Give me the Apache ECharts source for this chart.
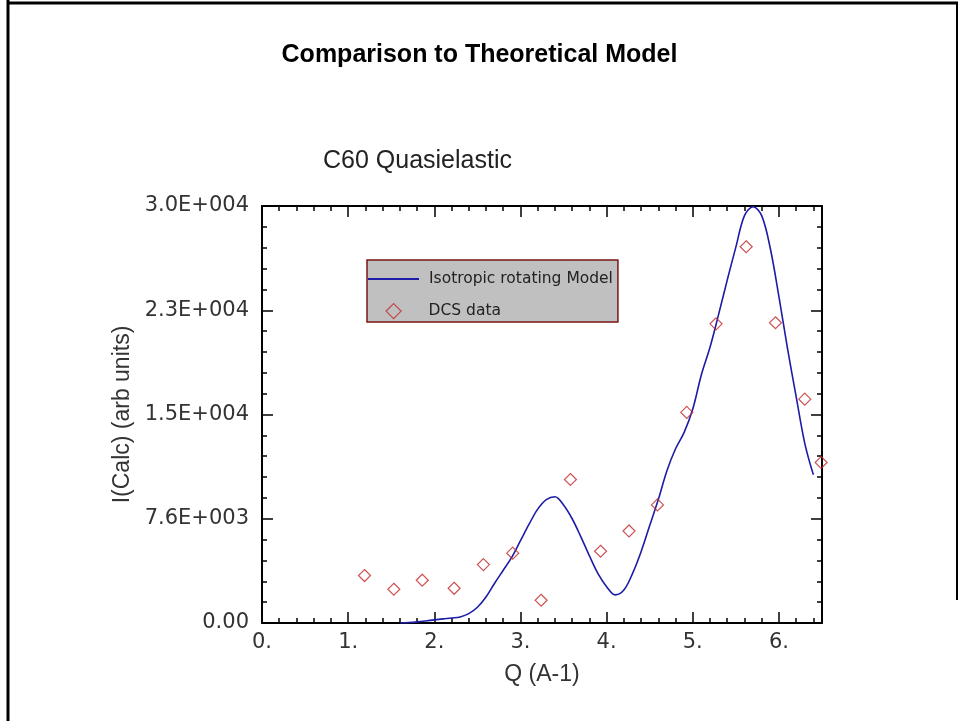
<!DOCTYPE html>
<html>
<head>
<meta charset="utf-8">
<script src="https://cdn.jsdelivr.net/npm/echarts@6/dist/echarts.min.js"></script>
<style>
html,body{margin:0;padding:0;background:#fff;}
#chart{width:959px;height:721px;}
</style>
</head>
<body>
<div id="chart"></div>
<script>
// ---- data ----
const dcsQ = [1.19, 1.53, 1.86, 2.23, 2.57, 2.91, 3.24, 3.58, 3.93, 4.26, 4.59, 4.93, 5.27, 5.62, 5.96, 6.30, 6.49];
const dcsI = [3460, 2460, 3120, 2530, 4260, 5090, 1660, 10460, 5230, 6710, 8610, 15350, 21810, 27430, 21890, 16320, 11700];

const modelQ = [1.6, 1.7, 1.8, 1.9, 2.0, 2.1, 2.2, 2.3, 2.4, 2.5, 2.6, 2.7, 2.8, 2.9, 3.0, 3.1, 3.2, 3.3, 3.4, 3.5, 3.6, 3.7, 3.8, 3.9, 4.0, 4.1, 4.2, 4.3, 4.4, 4.5, 4.6, 4.7, 4.8, 4.9, 5.0, 5.1, 5.2, 5.3, 5.4, 5.5, 5.6, 5.7, 5.8, 5.9, 6.0, 6.1, 6.2, 6.3, 6.4];
const modelI = [0, 30, 80, 150, 230, 300, 360, 440, 680, 1150, 1900, 2900, 3850, 4800, 6000, 7200, 8300, 9000, 9200, 8600, 7600, 6300, 4900, 3600, 2650, 2050, 2400, 3600, 5200, 7100, 9000, 11100, 12700, 13900, 15600, 18100, 20100, 22500, 25000, 27400, 29700, 30350, 29700, 27300, 23800, 20000, 16500, 13100, 10800];

const yTickValues = [0, 7600, 15200, 22800, 30400];
const yTickLabels = ['0.00', '7.6E+003', '1.5E+004', '2.3E+004', '3.0E+004'];
const xTickValues = [0, 1, 2, 3, 4, 5, 6];
const xTickLabels = ['0.', '1.', '2.', '3.', '4.', '5.', '6.'];

const seriesNames = ['Isotropic rotating Model', 'DCS data'];
const chartTitle = 'Comparison to Theoretical Model';
const plotTitle = 'C60 Quasielastic';
const xName = 'Q (A-1)';
const yName = 'I(Calc) (arb units)';

// ---- chart ----
const chart = echarts.init(document.getElementById('chart'), null, {renderer: 'canvas'});
const AX = '#000';
const LBL = '#333';
const FONT = 'Liberation Sans, Arial, sans-serif';
const TFONT = 'DejaVu Sans, sans-serif';
const DIAMOND = '#c0282a';

function xLabel(v) {
  for (let i = 0; i < xTickValues.length; i++) {
    if (Math.abs(v - xTickValues[i]) < 1e-6) return xTickLabels[i];
  }
  return '';
}
function yLabel(v) {
  for (let i = 0; i < yTickValues.length; i++) {
    if (Math.abs(v - yTickValues[i]) < 1e-6) return yTickLabels[i];
  }
  return '';
}

const xBase = {
  type: 'value', min: 0, max: 6.5, gridIndex: 0,
  splitLine: {show: false}
};

const legendText = {fontFamily: TFONT, fontSize: 15.5, color: '#222', lineHeight: 16};

const option = {
  backgroundColor: '#fff',
  animation: false,
  title: [
    {text: chartTitle, left: 'center', top: 38,
     textStyle: {fontFamily: FONT, fontSize: 25, fontWeight: 'bold', color: '#000'}},
    {text: plotTitle, left: 318, top: 144,
     textStyle: {fontFamily: FONT, fontSize: 25, fontWeight: 'normal', color: '#222'}}
  ],
  legend: [
    {
      orient: 'vertical',
      left: 367, top: 260,
      padding: [11, 5, 35, 0],
      itemWidth: 51, itemHeight: 12,
      backgroundColor: '#c0c0c0',
      borderColor: '#7a1414', borderWidth: 1.5,
      textStyle: Object.assign({padding: [0, 0, 0, 5]}, legendText),
      data: [{name: seriesNames[0], itemStyle: {opacity: 0}}],
      z: 5
    },
    {
      orient: 'vertical',
      left: 385.5, top: 303,
      padding: 0,
      itemWidth: 15, itemHeight: 15,
      backgroundColor: 'transparent',
      borderWidth: 0,
      textStyle: Object.assign({padding: [0, 0, 0, 22.5]}, legendText),
      data: [{name: seriesNames[1], icon: 'diamond',
              itemStyle: {color: 'rgba(255,255,255,0)', borderColor: DIAMOND, borderWidth: 1.2}}],
      z: 6
    }
  ],
  grid: {left: 262, top: 206, width: 560, height: 417, containLabel: false},
  xAxis: [
    Object.assign({}, xBase, {
      position: 'bottom', interval: 0.2,
      name: xName, nameLocation: 'middle', nameGap: 40,
      nameTextStyle: {fontFamily: FONT, fontSize: 23, color: LBL},
      axisLine: {show: true, onZero: false, lineStyle: {color: AX, width: 2}},
      axisTick: {show: true, inside: true, length: 5, lineStyle: {color: AX, width: 1.5}},
      axisLabel: {show: true, margin: 9, formatter: xLabel, fontFamily: TFONT, fontSize: 21, color: LBL}
    }),
    Object.assign({}, xBase, {
      position: 'bottom', interval: 1,
      axisLine: {show: false, onZero: false},
      axisTick: {show: true, inside: true, length: 11, lineStyle: {color: AX, width: 1.5}},
      axisLabel: {show: false}
    }),
    Object.assign({}, xBase, {
      position: 'top', interval: 0.2,
      axisLine: {show: true, onZero: false, lineStyle: {color: AX, width: 2}},
      axisTick: {show: true, inside: true, length: 5, lineStyle: {color: AX, width: 1.5}},
      axisLabel: {show: false}
    }),
    Object.assign({}, xBase, {
      position: 'top', interval: 1,
      axisLine: {show: false, onZero: false},
      axisTick: {show: true, inside: true, length: 11, lineStyle: {color: AX, width: 1.5}},
      axisLabel: {show: false}
    })
  ],
  yAxis: [
    {
      type: 'value', min: 0, max: 30400, interval: 7600, position: 'left',
      name: yName, nameLocation: 'middle', nameRotate: 90, nameGap: 8,
      nameTextStyle: {fontFamily: FONT, fontSize: 23, color: LBL},
      splitLine: {show: false},
      axisLine: {show: true, onZero: false, lineStyle: {color: AX, width: 2}},
      axisTick: {show: true, inside: true, length: 11, lineStyle: {color: AX, width: 1.5}},
      minorTick: {show: true, splitNumber: 5, length: 5, lineStyle: {color: AX, width: 1.5}},
      axisLabel: {show: true, margin: 13, formatter: yLabel, fontFamily: TFONT, fontSize: 21, color: LBL}
    },
    {
      type: 'value', min: 0, max: 30400, interval: 7600, position: 'right',
      splitLine: {show: false},
      axisLine: {show: true, onZero: false, lineStyle: {color: AX, width: 2}},
      axisTick: {show: true, inside: true, length: 11, lineStyle: {color: AX, width: 1.5}},
      minorTick: {show: true, splitNumber: 5, length: 5, lineStyle: {color: AX, width: 1.5}},
      axisLabel: {show: false}
    }
  ],
  series: [
    {
      name: seriesNames[0], type: 'line', xAxisIndex: 0, yAxisIndex: 0,
      data: modelQ.map((q, i) => [q, modelI[i]]),
      smooth: 0.35, symbol: 'none',
      lineStyle: {color: '#1c1ca6', width: 1.6},
      itemStyle: {color: '#1c1ca6'},
      z: 3
    },
    {
      name: seriesNames[1], type: 'scatter', xAxisIndex: 0, yAxisIndex: 0,
      data: dcsQ.map((q, i) => [q, dcsI[i]]),
      symbol: 'diamond', symbolSize: 12, clip: false,
      itemStyle: {color: 'rgba(255,255,255,0)', borderColor: DIAMOND, borderWidth: 1.2},
      z: 4
    }
  ],
  graphic: [
    {type: 'line', shape: {x1: 8, y1: 0, x2: 8, y2: 721}, style: {stroke: '#000', lineWidth: 3}},
    {type: 'line', shape: {x1: 8, y1: 3, x2: 958, y2: 3}, style: {stroke: '#000', lineWidth: 3}},
    {type: 'line', shape: {x1: 957, y1: 3, x2: 957, y2: 600}, style: {stroke: '#000', lineWidth: 2}}
  ]
};
chart.setOption(option);
</script>
</body>
</html>
